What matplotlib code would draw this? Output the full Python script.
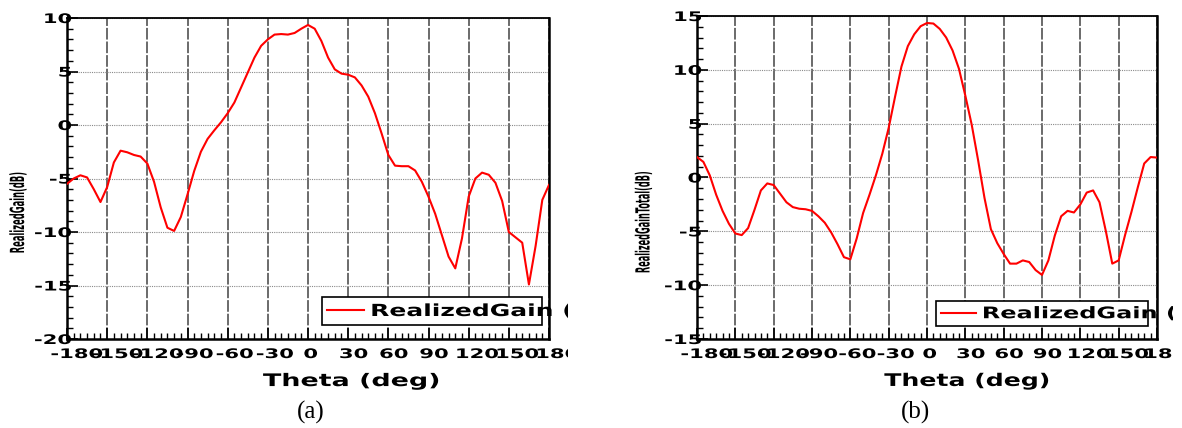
import matplotlib
matplotlib.use("Agg")
import matplotlib.pyplot as plt
from matplotlib.patheffects import AbstractPathEffect
from matplotlib.transforms import Affine2D, Bbox, TransformedBbox
from matplotlib.ticker import MultipleLocator

# ---------------- data ----------------
theta = list(range(-180, 181, 5))

gain_a = [-5.5, -5.0, -4.7, -4.9, -6.0, -7.2, -5.8, -3.5, -2.4, -2.55,
          -2.8, -2.95, -3.6, -5.3, -7.7, -9.6, -9.9, -8.6, -6.5, -4.3,
          -2.5, -1.3, -0.5, 0.25, 1.1, 2.1, 3.5, 4.9, 6.3, 7.4,
          8.0, 8.45, 8.5, 8.45, 8.6, 9.0, 9.35, 9.0, 7.85, 6.3,
          5.2, 4.8, 4.7, 4.45, 3.7, 2.65, 1.1, -0.8, -2.8, -3.8,
          -3.85, -3.85, -4.25, -5.3, -6.7, -8.3, -10.3, -12.3, -13.4, -10.6,
          -6.7, -5.0, -4.45, -4.65, -5.4, -7.1, -10.0, -10.5, -11.0, -14.9,
          -11.3, -7.0, -5.6]

gain_b = [1.9, 1.45, 0.2, -1.6, -3.1, -4.3, -5.2, -5.35, -4.7, -3.0,
          -1.2, -0.55, -0.7, -1.5, -2.3, -2.75, -2.9, -2.95, -3.1, -3.6,
          -4.2, -5.1, -6.2, -7.4, -7.6, -5.65, -3.3, -1.6, 0.2, 2.2,
          4.6, 7.5, 10.3, 12.2, 13.3, 14.05, 14.35, 14.3, 13.8, 13.0,
          11.8, 10.1, 7.6, 4.9, 1.6, -1.9, -4.8, -6.1, -7.1, -8.0,
          -8.0, -7.7, -7.85, -8.6, -9.05, -7.7, -5.4, -3.6, -3.1, -3.25,
          -2.5, -1.4, -1.2, -2.3, -5.0, -8.0, -7.7, -5.35, -3.2, -0.9,
          1.3, 1.9, 1.85]

xticks = [-180, -150, -120, -90, -60, -30, 0, 30, 60, 90, 120, 150, 180]
xtick_labels = ['-180', '-150', '-120', '-90', '-60', '-30', '0',
                '30', '60', '90', '120', '150', '180']
yticks_a = [-20, -15, -10, -5, 0, 5, 10]
yticks_b = [-15, -10, -5, 0, 5, 10, 15]

series_label = 'RealizedGain (dB)'
ylabel_a = 'RealizedGain(dB)'
ylabel_b = 'RealizedGainTotal(dB)'
xlabel = 'Theta (deg)'

# ---------------- helpers ----------------
W, H = 1182, 428
plt.rcParams['font.family'] = ['DejaVu Sans']


class Stretch(AbstractPathEffect):
    """Draw text glyphs scaled along the reading direction."""
    def __init__(self, sx, anchor='center'):
        super().__init__()
        self.sx = sx
        self.anchor = anchor

    def draw_path(self, renderer, gc, tpath, affine, rgbFace=None):
        ext = tpath.get_extents()
        if self.anchor == 'left':
            cx = 0.0
        elif self.anchor == 'right':
            cx = ext.x1
        else:
            cx = 0.5 * (ext.x0 + ext.x1)
        t = Affine2D().translate(-cx, 0).scale(self.sx, 1).translate(cx, 0) + affine
        renderer.draw_path(gc, tpath, t, rgbFace)


def rect(l, t, r, b):
    return [l / W, 1 - b / H, (r - l) / W, (b - t) / H]


fig = plt.figure(figsize=(W / 100, H / 100), dpi=100)


def make_panel(pos, gain, ylim, yticks, ylabel, xlab_coords, ylab_coords,
               leg_anchor, clip_x, caption, cap_xy, leg_fs):
    ax = fig.add_axes(rect(*pos))
    ax.plot(theta, gain, color='#ff0000', lw=1.5, label=series_label, zorder=3)
    ax.set_xlim(-180, 180)
    ax.set_ylim(*ylim)

    ax.set_xticks(xticks, xtick_labels, fontsize=9.5, fontweight='bold',
                  path_effects=[Stretch(1.6, 'left')])
    ax.set_yticks(yticks, [str(v) for v in yticks], fontsize=9.5, fontweight='bold',
                  path_effects=[Stretch(1.6, 'right')])
    ax.xaxis.set_minor_locator(MultipleLocator(5))
    ax.yaxis.set_minor_locator(MultipleLocator(1))
    ax.tick_params(which='both', direction='in', top=False, right=False, color='black')
    ax.tick_params(which='major', length=8, width=1.2)
    ax.tick_params(which='minor', length=4, width=1.0)
    ax.tick_params(axis='x', which='major', pad=6.5)
    ax.tick_params(axis='y', which='major', pad=-3.5)

    ax.xaxis.grid(True, which='major', color='#6a6a6a', lw=1.4, ls=(0, (6, 1.0)))
    ax.yaxis.grid(True, which='major', color='#8a8a8a', lw=0.8, ls=(0, (1, 1)))
    ax.set_axisbelow(True)

    for side in ['left', 'bottom', 'right']:
        ax.spines[side].set_linewidth(1.8)
        ax.spines[side].set_color('black')
    ax.spines['top'].set_linewidth(1.3)

    # the source image is cropped at the right: clip text there
    clipbox = TransformedBbox(Bbox([[0, 0], [clip_x / W, 1]]), fig.transFigure)
    lbl = ax.get_xticklabels()[-1]
    lbl.set_clip_box(clipbox)
    lbl.set_clip_on(True)

    ax.set_xlabel(xlabel, fontsize=12.5, fontweight='bold',
                  path_effects=[Stretch(xlab_coords[2], 'center')])
    ax.xaxis.set_label_coords(xlab_coords[0], xlab_coords[1])

    ax.set_ylabel(ylabel, fontsize=14, fontweight='bold',
                  path_effects=[Stretch(ylab_coords[2], 'center')])
    ax.yaxis.set_label_coords(ylab_coords[0], ylab_coords[1])
    ax.yaxis.label.set_verticalalignment('center')

    leg = ax.legend(loc='lower right', bbox_to_anchor=leg_anchor, borderaxespad=0,
                    fancybox=False, framealpha=1, edgecolor='black',
                    prop={'weight': 'bold', 'size': leg_fs},
                    handlelength=2.2, handletextpad=0.36, borderpad=0.3)
    leg.get_frame().set_linewidth(1.2)
    leg.set_zorder(5)
    for t in leg.get_texts():
        t.set_path_effects([Stretch(1.5, 'left')])
        t.set_clip_box(clipbox)
        t.set_clip_on(True)

    fig.text(cap_xy[0] / W, 1 - cap_xy[1] / H, caption, family='Liberation Serif',
             fontsize=18, ha='center', va='center')
    return ax


make_panel((67, 18, 549, 339), gain_a, (-20, 10), yticks_a, ylabel_a,
           (0.590, -0.103, 1.55), (-0.1006, 0.394, 0.43),
           ((542 - 67) / 482, (339 - 325) / 321), 568, '(a)', (311, 412), 12)

make_panel((697, 16, 1157, 339), gain_b, (-15, 15), yticks_b, ylabel_b,
           (0.587, -0.102, 1.45), ((644 - 697) / 460, (339 - 222) / 323, 0.42),
           ((1148 - 697) / 460, (339 - 326) / 323), 1173, '(b)', (915, 412), 11.5)

fig.savefig('out.png', dpi=100)
